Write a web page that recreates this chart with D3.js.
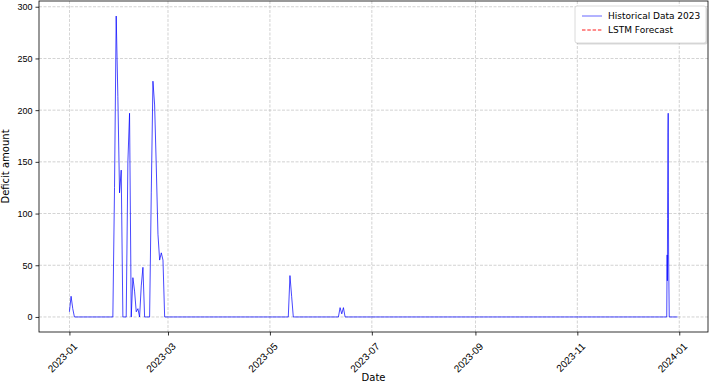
<!DOCTYPE html>
<html>
<head>
<meta charset="utf-8">
<script src="https://cdn.jsdelivr.net/npm/d3@7"></script>
<style>
  html, body { margin: 0; padding: 0; background: #fff; }
  svg { display: block; font-family: "DejaVu Sans", sans-serif; }
</style>
</head>
<body>
<svg id="chart" width="709" height="384"></svg>
<script>
// Breakpoints of the historical series (flat zero stretches are given by their end points)
const dates = [
  "2023-01-01 00", "2023-01-02 00", "2023-01-03 00", "2023-01-04 00",
  "2023-01-27 00", "2023-01-28 00", "2023-01-29 00", "2023-01-30 00", "2023-01-31 00", "2023-02-01 00", "2023-02-02 00",
  "2023-02-04 00", "2023-02-05 00", "2023-02-06 00", "2023-02-07 00",
  "2023-02-08 00", "2023-02-09 00", "2023-02-10 00", "2023-02-11 00", "2023-02-12 00",
  "2023-02-13 00", "2023-02-14 00", "2023-02-15 00",
  "2023-02-18 00", "2023-02-19 00", "2023-02-20 00", "2023-02-21 00", "2023-02-22 00", "2023-02-23 00",
  "2023-02-24 00", "2023-02-25 00", "2023-02-26 00", "2023-02-27 00",
  "2023-05-12 00", "2023-05-13 00", "2023-05-14 00", "2023-05-15 00",
  "2023-06-11 00", "2023-06-12 00", "2023-06-13 00", "2023-06-14 00", "2023-06-15 00",
  "2023-12-24 12", "2023-12-24 18", "2023-12-24 21", "2023-12-25 00", "2023-12-25 06",
  "2023-12-25 09", "2023-12-25 12", "2023-12-25 15", "2023-12-26 00", "2023-12-31 00"
];
const values = [
  5, 20, 8, 0,
  0, 125, 291, 213, 120, 142, 0,
  0, 150, 197, 0,
  38, 25, 5, 8, 0,
  30, 48, 0,
  0, 120, 228, 205, 145, 80,
  55, 62, 55, 0,
  0, 40, 20, 0,
  0, 9, 3, 9, 0,
  0, 60, 35, 95, 178,
  197, 120, 60, 0, 0
];
const forecastDates = [];   // "LSTM Forecast" series (no visible points)
const forecastValues = [];
const xTickDates = ["2023-01-01", "2023-03-01", "2023-05-01", "2023-07-01", "2023-09-01", "2023-11-01", "2024-01-01"];
const yTicks = [0, 50, 100, 150, 200, 250, 300];
const seriesNames = ["Historical Data 2023", "LSTM Forecast"];

const parseH = d3.timeParse("%Y-%m-%d %H");
const parseD = d3.timeParse("%Y-%m-%d");
const data = dates.map((d, i) => ({ t: parseH(d), v: values[i] }));

const svg = d3.select("#chart");
const L = 39, R = 708, T = 1, B = 332;

// matplotlib-style 5% margins
const tExt = d3.extent(data, d => d.t);
const tPad = (tExt[1] - tExt[0]) * 0.05;
const x = d3.scaleTime().domain([new Date(+tExt[0] - tPad), new Date(+tExt[1] + tPad)]).range([L, R]);
const vMax = d3.max(data, d => d.v), vMin = 0;
const vPad = (vMax - vMin) * 0.05;
const y = d3.scaleLinear().domain([vMin - vPad, vMax + vPad]).range([B, T]);

const xt = xTickDates.map(parseD);

// grid
const grid = svg.append("g");
grid.selectAll("line.gx").data(xt).join("line")
  .attr("x1", d => x(d)).attr("x2", d => x(d)).attr("y1", T).attr("y2", B)
  .attr("stroke", "#b0b0b0").attr("stroke-width", 0.8).attr("stroke-dasharray", "3,1.5").attr("opacity", 0.7);
grid.selectAll("line.gy").data(yTicks).join("line")
  .attr("x1", L).attr("x2", R).attr("y1", d => y(d)).attr("y2", d => y(d))
  .attr("stroke", "#b0b0b0").attr("stroke-width", 0.8).attr("stroke-dasharray", "3,1.5").attr("opacity", 0.7);

// line
const line = d3.line().x(d => x(d.t)).y(d => y(d.v));
svg.append("path").datum(data)
  .attr("d", line).attr("fill", "none")
  .attr("stroke", "#0000ff").attr("stroke-opacity", 0.8).attr("stroke-width", 0.9);

// axes
const xAxis = d3.axisBottom(x).tickValues(xt).tickFormat(d3.timeFormat("%Y-%m")).tickSize(3.5).tickPadding(3);
const gx = svg.append("g").attr("transform", `translate(0,${B})`).call(xAxis);
gx.select(".domain").remove();
gx.selectAll("text")
  .attr("font-size", 10).attr("fill", "#000")
  .attr("text-anchor", "end")
  .attr("dy", "0.35em")
  .attr("transform", "translate(1,8) rotate(-45)");
gx.selectAll("line").attr("stroke", "#000").attr("stroke-width", 0.8);

const yAxis = d3.axisLeft(y).tickValues(yTicks).tickSize(3.5).tickPadding(3);
const gy = svg.append("g").attr("transform", `translate(${L},0)`).call(yAxis);
gy.select(".domain").remove();
gy.selectAll("text").attr("font-size", 9).attr("fill", "#000");
gy.selectAll("line").attr("stroke", "#000").attr("stroke-width", 0.8);

// frame
svg.append("rect").attr("x", L).attr("y", T).attr("width", R - L).attr("height", B - T)
  .attr("fill", "none").attr("stroke", "#000").attr("stroke-width", 0.8);

// axis labels
svg.append("text").attr("x", (L + R) / 2).attr("y", 381).attr("text-anchor", "middle")
  .attr("font-size", 10).text("Date");
svg.append("text").attr("transform", `translate(9,${(T + B) / 2}) rotate(-90)`).attr("text-anchor", "middle")
  .attr("font-size", 10).text("Deficit amount");

// legend
const lg = svg.append("g").attr("transform", "translate(575,6)");
lg.append("rect").attr("x", 1.5).attr("y", 1.5).attr("width", 131).attr("height", 37).attr("rx", 2)
  .attr("fill", "#000").attr("opacity", 0.15);
lg.append("rect").attr("x", 0).attr("y", 0).attr("width", 131).attr("height", 37).attr("rx", 2)
  .attr("fill", "#fff").attr("stroke", "#d0d0d0").attr("stroke-width", 0.8);
const lgColors = ["#0000ff", "#ff0000"];
const lgDash = [null, "3.5,1.8"];
seriesNames.forEach((name, i) => {
  const yy = 10 + i * 14;
  lg.append("line").attr("x1", 7).attr("x2", 27).attr("y1", yy).attr("y2", yy)
    .attr("stroke", lgColors[i]).attr("stroke-opacity", i === 0 ? 0.6 : 0.9).attr("stroke-width", 1)
    .attr("stroke-dasharray", lgDash[i]);
  lg.append("text").attr("x", 33).attr("y", yy).attr("dy", "0.35em").attr("font-size", 9).text(name);
});
</script>
</body>
</html>
